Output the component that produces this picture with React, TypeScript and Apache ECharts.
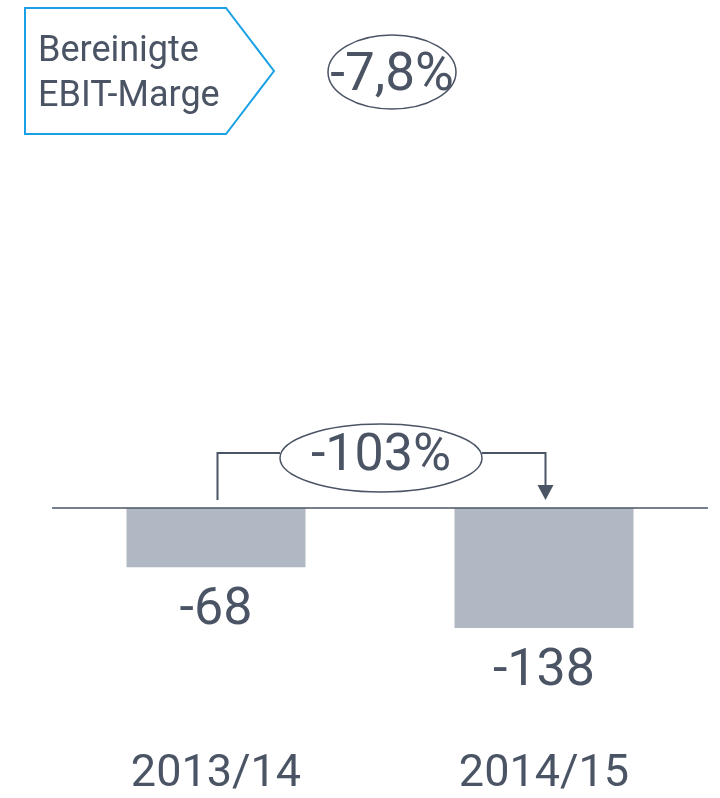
import React, { useEffect, useRef } from "react";
import * as echarts from "echarts";

const categories = ["2013/14", "2014/15"];
const ebitValues = [-68, -138];
const titleLines = ["Bereinigte", "EBIT-Marge"];
const marginLabel = "-7,8%";
const changeLabel = "-103%";

const TEXT = "#4a5464";
const BAR = "#b0b9c3";
const BLUE = "#1aa0e4";
const FONT = "Roboto, 'Noto Sans', sans-serif";

export default function App() {
  const ref = useRef<HTMLDivElement>(null);
  useEffect(() => {
    if (!ref.current) return;
    const chart = echarts.init(ref.current, null, { renderer: "svg" });
    chart.setOption({
      animation: false,
      grid: { left: 52, right: 12, top: 421, bottom: 116 },
      xAxis: {
        type: "category",
        data: categories,
        position: "bottom",
        axisLine: { show: false, onZero: false },
        axisTick: { show: false },
        axisLabel: { color: TEXT, fontSize: 45, lineHeight: 40, fontFamily: FONT, margin: 68 },
      },
      yAxis: {
        type: "value",
        min: -200,
        max: 100,
        show: false,
        splitLine: { show: false },
      },
      series: [
        {
          type: "bar",
          data: ebitValues,
          barWidth: 179,
          itemStyle: { color: BAR },
          label: {
            show: true,
            position: "bottom",
            distance: 13,
            color: TEXT,
            fontSize: 52,
            fontFamily: FONT,
          },
          markLine: {
            symbol: "none",
            silent: true,
            label: { show: false },
            lineStyle: { color: TEXT, width: 1.5, type: "solid" },
            data: [{ yAxis: 0 }],
          },
        },
      ],
    });

    const x0 = chart.convertToPixel({ xAxisIndex: 0 }, categories[0]) as number;
    const x1 = chart.convertToPixel({ xAxisIndex: 0 }, categories[1]) as number;
    const yZero = chart.convertToPixel({ yAxisIndex: 0 }, 0) as number;
    const lx = x0 + 1.5;
    const rx = x1 + 1.5;
    const yBr = yZero - 55;
    const ecx = (lx + rx) / 2 - 0.5;
    const ecy = yZero - 50;
    const erx = 101;
    const ery = 34;

    chart.setOption({
      graphic: [
        {
          type: "polygon",
          shape: { points: [[25, 8], [226, 8], [274, 71], [226, 134], [25, 134]] },
          style: { fill: "#fff", stroke: BLUE, lineWidth: 2 },
        },
        {
          type: "text",
          x: 38,
          y: 49,
          style: { text: titleLines[0], fill: TEXT, fontSize: 36, fontFamily: FONT, verticalAlign: "middle" },
        },
        {
          type: "text",
          x: 38,
          y: 94,
          style: { text: titleLines[1], fill: TEXT, fontSize: 36, fontFamily: FONT, verticalAlign: "middle" },
        },
        {
          type: "ellipse",
          shape: { cx: 392, cy: 72, rx: 64, ry: 37 },
          style: { fill: "none", stroke: TEXT, lineWidth: 1.5 },
        },
        {
          type: "text",
          x: 392,
          y: 72,
          style: { text: marginLabel, fill: TEXT, fontSize: 53, fontFamily: FONT, align: "center", verticalAlign: "middle" },
        },
        {
          type: "polyline",
          shape: { points: [[lx, yZero - 8], [lx, yBr], [ecx - erx, yBr]] },
          style: { stroke: TEXT, lineWidth: 2, fill: "none" },
        },
        {
          type: "polyline",
          shape: { points: [[ecx + erx, yBr], [rx, yBr], [rx, yZero - 22]] },
          style: { stroke: TEXT, lineWidth: 2, fill: "none" },
        },
        {
          type: "polygon",
          shape: { points: [[rx - 8, yZero - 23], [rx + 8, yZero - 23], [rx, yZero - 8]] },
          style: { fill: TEXT, stroke: "none" },
        },
        {
          type: "ellipse",
          shape: { cx: ecx, cy: ecy, rx: erx, ry: ery },
          style: { fill: "#fff", stroke: TEXT, lineWidth: 1.5 },
        },
        {
          type: "text",
          x: ecx,
          y: ecy - 6,
          style: { text: changeLabel, fill: TEXT, fontSize: 52, fontFamily: FONT, align: "center", verticalAlign: "middle" },
        },
      ],
    });

    return () => chart.dispose();
  }, []);
  return (
    <div
      ref={ref}
      style={{ position: "fixed", left: 0, top: 0, width: 720, height: 798 }}
    />
  );
}
